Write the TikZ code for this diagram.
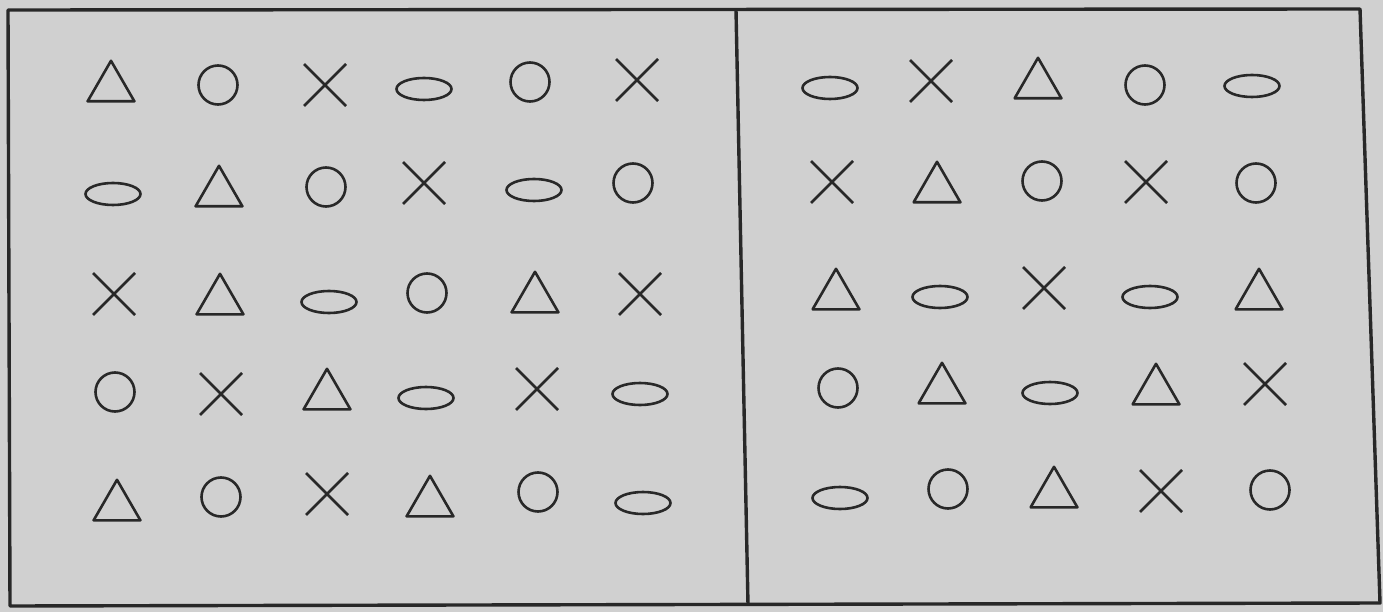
\documentclass[tikz,border=0pt]{standalone}
\usetikzlibrary{shapes.geometric,shapes.misc}
\definecolor{paper}{RGB}{208,208,208}
\definecolor{ink}{RGB}{40,40,40}
\tikzset{
  sym/.style={draw=ink,line width=2.6pt,inner sep=0pt,outer sep=0pt},
  circ/.style={sym,circle,minimum size=39pt},
  ell/.style={sym,ellipse,minimum width=55pt,minimum height=22pt},
  tri/.style={sym,regular polygon,regular polygon sides=3,minimum size=54pt,yshift=-6.8pt,line join=round},
  crs/.style={sym,cross out,minimum width=42pt,minimum height=42pt},
  frame/.style={draw=ink,line width=3.4pt,line join=round},
}
\begin{document}
\begin{tikzpicture}[x=1pt,y=-1pt]
\fill[paper] (0,0) rectangle (1383,612);
\useasboundingbox (0,0) rectangle (1383,612);
% frame corners
\coordinate (TL) at (8,10);
\coordinate (TR) at (1360,9);
\coordinate (BR) at (1380,603);
\coordinate (BL) at (10,606);
\coordinate (DT) at (736,10);
\coordinate (DB) at (748,605);
\draw[frame] (TL) -- (TR) -- (BR) -- (BL) -- cycle;
\draw[frame] (DT) -- (DB);
% left panel, row 1
\node[tri]  (L11) at (111,81) {};
\node[circ] (L12) at (218,85) {};
\node[crs]  (L13) at (325,85) {};
\node[ell]  (L14) at (424,89) {};
\node[circ] (L15) at (530,82) {};
\node[crs]  (L16) at (637,80) {};
% row 2
\node[ell]  (L21) at (113,194) {};
\node[tri]  (L22) at (219,186) {};
\node[circ] (L23) at (326,187) {};
\node[crs]  (L24) at (424,183) {};
\node[ell]  (L25) at (534,190) {};
\node[circ] (L26) at (633,183) {};
% row 3
\node[crs]  (L31) at (114,294) {};
\node[tri]  (L32) at (220,294) {};
\node[ell]  (L33) at (329,302) {};
\node[circ] (L34) at (427,293) {};
\node[tri]  (L35) at (535,292) {};
\node[crs]  (L36) at (640,294) {};
% row 4
\node[circ] (L41) at (115,392) {};
\node[crs]  (L42) at (221,394) {};
\node[tri]  (L43) at (327,389) {};
\node[ell]  (L44) at (426,398) {};
\node[crs]  (L45) at (537,389) {};
\node[ell]  (L46) at (640,394) {};
% row 5
\node[tri]  (L51) at (117,500) {};
\node[circ] (L52) at (221,497) {};
\node[crs]  (L53) at (327,494) {};
\node[tri]  (L54) at (430,496) {};
\node[circ] (L55) at (538,492) {};
\node[ell]  (L56) at (643,503) {};
% right panel, row 1
\node[ell]  (R11) at (830,88) {};
\node[crs]  (R12) at (931,81) {};
\node[tri]  (R13) at (1038,78) {};
\node[circ] (R14) at (1145,85) {};
\node[ell]  (R15) at (1252,86) {};
% row 2
\node[crs]  (R21) at (832,182) {};
\node[tri]  (R22) at (937,182) {};
\node[circ] (R23) at (1042,181) {};
\node[crs]  (R24) at (1146,182) {};
\node[circ] (R25) at (1256,183) {};
% row 3
\node[tri]  (R31) at (836,289) {};
\node[ell]  (R32) at (940,297) {};
\node[crs]  (R33) at (1044,288) {};
\node[ell]  (R34) at (1150,297) {};
\node[tri]  (R35) at (1259,289) {};
% row 4
\node[circ] (R41) at (838,388) {};
\node[tri]  (R42) at (942,383) {};
\node[ell]  (R43) at (1050,393) {};
\node[tri]  (R44) at (1156,384) {};
\node[crs]  (R45) at (1265,384) {};
% row 5
\node[ell]  (R51) at (840,498) {};
\node[circ] (R52) at (948,489) {};
\node[tri]  (R53) at (1054,487) {};
\node[crs]  (R54) at (1161,491) {};
\node[circ] (R55) at (1270,490) {};
\end{tikzpicture}
\end{document}
